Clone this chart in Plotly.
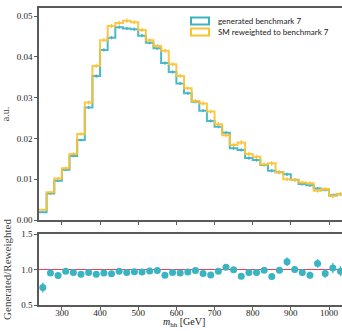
import plotly.graph_objects as go

# ---- data ----
bin_edges = list(range(240, 1041, 20))
bin_centers = [e + 10 for e in bin_edges[:-1]]

generated = [0.0019, 0.0065, 0.0096, 0.0123, 0.0157, 0.0196, 0.0276, 0.0353, 0.0417, 0.0447,
             0.0473, 0.0470, 0.0468, 0.0452, 0.0435, 0.0421, 0.0385, 0.0363, 0.0335, 0.0311,
             0.0290, 0.0268, 0.0243, 0.0229, 0.0214, 0.0176, 0.0172, 0.0152, 0.0147, 0.0135,
             0.0121, 0.0117, 0.0112, 0.0099, 0.0088, 0.0085, 0.0077, 0.0074, 0.0061, 0.0063]
generated_err = [0.0002, 0.0003, 0.0003, 0.0003, 0.0003, 0.0003, 0.0004, 0.0004, 0.0004, 0.0004,
                 0.0004, 0.0004, 0.0004, 0.0004, 0.0004, 0.0004, 0.0004, 0.0004, 0.0004, 0.0004,
                 0.0004, 0.0004, 0.0004, 0.0004, 0.0004, 0.0004, 0.0004, 0.0004, 0.0004, 0.0004,
                 0.0004, 0.0004, 0.0004, 0.0004, 0.0004, 0.0004, 0.0004, 0.0004, 0.0004, 0.0004]

reweighted = [0.0025, 0.0068, 0.0102, 0.0127, 0.0162, 0.0211, 0.0288, 0.0378, 0.0441, 0.0476,
              0.0483, 0.0489, 0.0485, 0.0466, 0.0441, 0.0427, 0.0415, 0.0382, 0.0353, 0.0323,
              0.0292, 0.0286, 0.0266, 0.0235, 0.0208, 0.0184, 0.0190, 0.0162, 0.0155, 0.0136,
              0.0139, 0.0117, 0.0100, 0.0098, 0.0092, 0.0090, 0.0072, 0.0076, 0.0059, 0.0064]
reweighted_err = [0.0002, 0.0003, 0.0004, 0.0004, 0.0004, 0.0004, 0.0005, 0.0005, 0.0005, 0.0005,
                  0.0005, 0.0005, 0.0005, 0.0005, 0.0005, 0.0005, 0.0005, 0.0005, 0.0005, 0.0005,
                  0.0005, 0.0005, 0.0005, 0.0005, 0.0005, 0.0005, 0.0006, 0.0005, 0.0005, 0.0005,
                  0.0006, 0.0005, 0.0005, 0.0005, 0.0005, 0.0005, 0.0005, 0.0005, 0.0005, 0.0005]

ratio = [0.745, 0.95, 0.915, 0.976, 0.957, 0.933, 0.957, 0.933, 0.95, 0.94,
         0.976, 0.957, 0.97, 0.965, 0.98, 0.985, 0.92, 0.957, 0.95, 0.965,
         0.987, 0.943, 0.924, 0.976, 1.033, 0.995, 0.905, 0.957, 0.957, 0.99,
         0.9, 0.99, 1.11, 1.0, 0.957, 0.92, 1.085, 0.943, 1.02, 0.976]
ratio_err = [0.07, 0.02, 0.02, 0.02, 0.015, 0.015, 0.015, 0.012, 0.012, 0.012,
             0.012, 0.012, 0.012, 0.012, 0.015, 0.015, 0.015, 0.02, 0.02, 0.02,
             0.02, 0.025, 0.025, 0.025, 0.03, 0.03, 0.03, 0.035, 0.035, 0.04,
             0.04, 0.04, 0.06, 0.05, 0.05, 0.05, 0.06, 0.06, 0.07, 0.07]

top_ticks = [0.00, 0.01, 0.02, 0.03, 0.04, 0.05]
ratio_ticks = [0.5, 1.0, 1.5]
mass_ticks = [300, 400, 500, 600, 700, 800, 900, 1000]

label_gen = "generated benchmark 7"
label_rew = "SM reweighted to benchmark 7"
x_title = "<i>m</i><sub>hh</sub> [GeV]"

# ---- style ----
TEAL = "#3ab3c3"
GOLD = "#fcc232"
RED = "#e8435a"
AX = "#5a5a5a"
SERIF = "Liberation Serif, DejaVu Serif, serif"
SANS = "Lato, Liberation Sans, sans-serif"

W, H = 342, 331
ML, MR, MT, MB = 39, 0, 8, 26
PW, PH = W - ML - MR, H - MT - MB


def py(ypix):
    return (H - MB - ypix) / PH


def px(xpix):
    return (xpix - ML) / PW


step_x = bin_edges
fig = go.Figure()

for vals, errs, col, name in [(generated, generated_err, TEAL, label_gen),
                              (reweighted, reweighted_err, GOLD, label_rew)]:
    fig.add_trace(go.Scatter(
        x=step_x, y=vals + [vals[-1]], mode="lines", line=dict(color=col, width=2, shape="hv"),
        opacity=0.9, name=name, showlegend=False, xaxis="x", yaxis="y", hoverinfo="skip"))
    fig.add_trace(go.Scatter(
        x=bin_centers, y=vals, mode="markers", marker=dict(size=1, color=col),
        error_y=dict(type="data", array=errs, color=col, thickness=1.3, width=0),
        showlegend=False, xaxis="x", yaxis="y", hoverinfo="skip", opacity=0.9))

fig.add_trace(go.Scatter(
    x=[bin_edges[0], bin_edges[-1]], y=[1, 1], mode="lines", line=dict(color=RED, width=1.2),
    showlegend=False, xaxis="x2", yaxis="y2", hoverinfo="skip"))
fig.add_trace(go.Scatter(
    x=bin_centers, y=ratio, mode="markers", marker=dict(size=7, color=TEAL),
    error_y=dict(type="data", array=ratio_err, color=TEAL, thickness=1.3, width=0),
    showlegend=False, xaxis="x2", yaxis="y2", hoverinfo="skip"))

xr = [240, 1034]
axis_common = dict(showline=True, linecolor=AX, linewidth=1.5, ticks="outside", ticklen=3,
                   tickcolor=AX, tickwidth=1, showgrid=False, zeroline=False, automargin=False,
                   tickfont=dict(family=SERIF, size=9, color="#222"))

fig.update_layout(
    template="none",
    width=W, height=H, margin=dict(l=ML, r=MR, t=MT, b=MB),
    paper_bgcolor="white", plot_bgcolor="white", showlegend=False,
    xaxis=dict(domain=[0, 1], range=xr, anchor="y", tickvals=mass_ticks, showticklabels=False,
               mirror=True, **axis_common),
    yaxis=dict(domain=[py(220), 1], range=[0, 0.052], anchor="x", tickvals=top_ticks,
               tickformat=".2f", title=dict(text="a.u.", font=dict(family=SERIF, size=10), standoff=8),
               **axis_common),
    xaxis2=dict(domain=[0, 1], range=xr, anchor="y2", tickvals=mass_ticks, mirror=True,
                ticklabelstandoff=-5, **axis_common),
    yaxis2=dict(domain=[0, py(234)], range=[0.5, 1.5], anchor="x2", tickvals=ratio_ticks,
                tickformat=".1f",
                title=dict(text="Generated/Reweighted", font=dict(family=SERIF, size=11), standoff=7),
                **axis_common),
)

# x-axis title placed below the tick labels
fig.add_annotation(xref="paper", yref="paper", x=px(184), y=py(331), text=x_title,
                   showarrow=False, xanchor="center", yanchor="bottom",
                   font=dict(family=SERIF, size=10, color="#222"))

# manual legend (outlined patches + labels)
legend_rows = [(label_gen, TEAL, 21), (label_rew, GOLD, 32)]
for text, col, yc in legend_rows:
    fig.add_shape(type="rect", xref="paper", yref="paper",
                  x0=px(191), x1=px(209), y0=py(yc - 3.5), y1=py(yc + 3.5),
                  line=dict(color=col, width=2), fillcolor="rgba(0,0,0,0)")
    fig.add_annotation(xref="paper", yref="paper", x=px(216), y=py(yc), text=text,
                       showarrow=False, xanchor="left", yanchor="middle",
                       font=dict(family=SANS, size=8, color="#222"))

fig.write_html("out.html", config={"displayModeBar": False},
               post_script="document.body.style.margin='0';document.body.style.padding='0';")
